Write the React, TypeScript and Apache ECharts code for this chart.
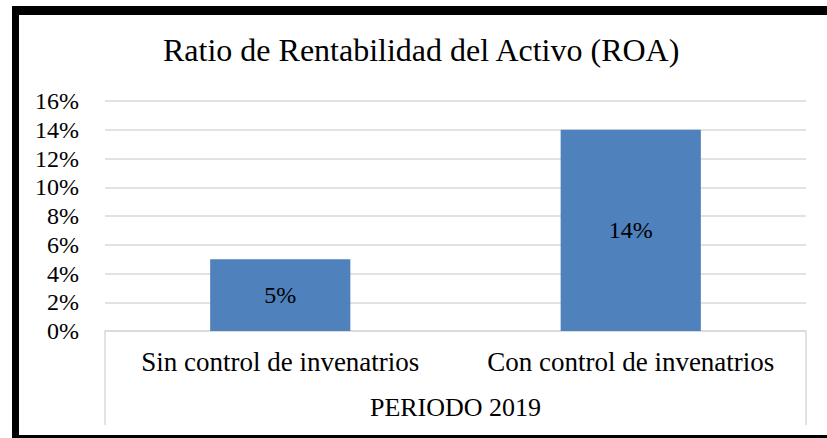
import React, { useEffect, useRef } from "react";
import * as echarts from "echarts";

const titleText = "Ratio de Rentabilidad del Activo (ROA)";
const categories = ["Sin control de invenatrios", "Con control de invenatrios"];
const periodLabels = ["PERIODO 2019"];
const roaValues = [5, 14];
const yMin = 0;
const yMax = 16;
const yInterval = 2;

const FONT = "Liberation Serif";

export default function App() {
  const ref = useRef<HTMLDivElement>(null);
  useEffect(() => {
    if (!ref.current) return;
    const chart = echarts.init(ref.current, undefined, { renderer: "svg" });
    chart.setOption({
      animation: false,
      backgroundColor: "#ffffff",
      textStyle: { fontFamily: FONT },
      title: {
        text: titleText,
        left: 163,
        top: 34,
        padding: 0,
        textStyle: { fontFamily: FONT, fontSize: 32, fontWeight: "normal", color: "#000" },
      },
      grid: { left: 105, right: 21, top: 101, bottom: 107, containLabel: false },
      xAxis: [
        {
          type: "category",
          data: categories,
          position: "bottom",
          axisLine: { show: true, lineStyle: { color: "#d9d9d9", width: 1.5 } },
          axisTick: { show: false },
          axisLabel: { interval: 0, margin: 17, fontFamily: FONT, fontSize: 27, color: "#000" },
        },
        {
          type: "category",
          data: periodLabels,
          position: "bottom",
          axisLine: { show: false },
          axisTick: { show: true, length: 94, lineStyle: { color: "#d9d9d9", width: 1.5 } },
          axisLabel: { interval: 0, margin: 63, fontFamily: FONT, fontSize: 26, color: "#000" },
        },
      ],
      yAxis: {
        type: "value",
        min: yMin,
        max: yMax,
        interval: yInterval,
        axisLine: { show: false },
        axisTick: { show: false },
        splitLine: { lineStyle: { color: "#d9d9d9", width: 1.5 } },
        axisLabel: {
          margin: 26,
          formatter: "{value}%",
          fontFamily: FONT,
          fontSize: 24,
          color: "#000",
        },
      },
      series: [
        {
          type: "bar",
          xAxisIndex: 0,
          data: roaValues,
          barWidth: "40%",
          itemStyle: { color: "#4F81BD" },
          label: {
            show: true,
            position: "inside",
            formatter: "{c}%",
            fontFamily: FONT,
            fontSize: 24,
            color: "#000",
          },
        },
      ],
      graphic: [
        { type: "rect", shape: { x: 12, y: 6, width: 815, height: 9 }, style: { fill: "#000" }, z: 100 },
        { type: "rect", shape: { x: 12, y: 6, width: 7, height: 432 }, style: { fill: "#000" }, z: 100 },
        { type: "rect", shape: { x: 12, y: 435, width: 815, height: 3 }, style: { fill: "#000" }, z: 100 },
      ],
    });
    return () => chart.dispose();
  }, []);
  return (
    <div
      ref={ref}
      style={{ position: "fixed", left: 0, top: 0, width: 827, height: 438 }}
    />
  );
}
